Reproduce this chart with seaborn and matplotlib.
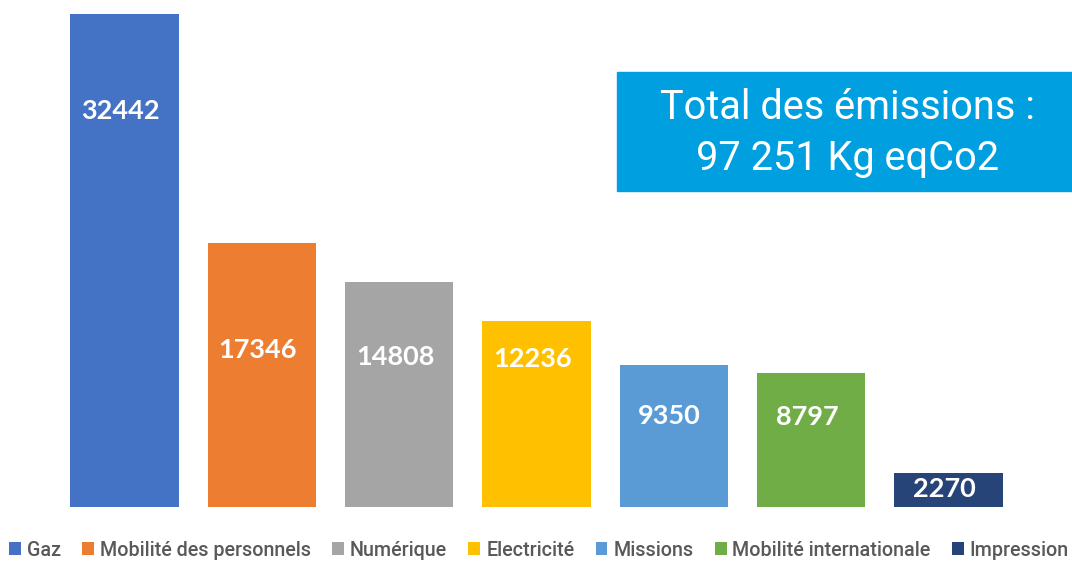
import pandas as pd
import seaborn as sns
import matplotlib.pyplot as plt
from matplotlib.patches import Rectangle

# emissions per poste (kg eqCO2)
categories = ["Gaz", "Mobilité des personnels", "Numérique", "Electricité",
              "Missions", "Mobilité internationale", "Impression"]
emissions = [32442, 17346, 14808, 12236, 9350, 8797, 2270]
colors = ["#4472C4", "#ED7D31", "#A5A5A5", "#FFC000", "#5B9BD5", "#70AD47", "#264478"]
# where the value label sits inside each bar (data units)
label_y = [26060, 10330, 9870, 9740, 5990, 5920, 1185]
total_text = "Total des émissions :\n97 251 Kg eqCo2"

df = pd.DataFrame({"poste": categories, "kg": emissions})

W, H = 1072, 561
fig = plt.figure(figsize=(W / 100, H / 100), dpi=100)
ax = fig.add_axes([55.8 / W, (H - 507) / H, (1017.2 - 55.8) / W, (507 - 14) / H])

sns.barplot(data=df, x="poste", y="kg", hue="poste", palette=colors,
            dodge=False, width=0.79, saturation=1, legend=True, ax=ax)

ax.set_xlim(-0.5, len(categories) - 0.5)
ax.set_ylim(0, max(emissions))
ax.axis("off")

for i, (v, ly) in enumerate(zip(emissions, label_y)):
    ax.text(i - 0.03, ly, str(v), ha="center", va="center", color="white",
            fontsize=19.5, fontweight="bold", family="Lato")

handles, labels = ax.get_legend_handles_labels()
ax.get_legend().remove()
fig.legend(handles, labels, loc="center", bbox_to_anchor=(539 / W, 1 - 550 / H),
           ncol=7, frameon=False, handlelength=0.6, handleheight=0.6,
           handletextpad=0.3, columnspacing=1.08,
           prop={"family": "Roboto", "size": 14.2, "weight": "medium"},
           labelcolor="#595959")

# blue total box
fig.patches.append(Rectangle((617 / W, 1 - 191 / H), (1072 - 617) / W, (191 - 72) / H,
                             transform=fig.transFigure, color="#009FDF", zorder=0))
fig.text(848 / W, 1 - 133 / H, total_text, ha="center", va="center", color="white",
         fontsize=28.6, family="Roboto", linespacing=1.38)

plt.savefig("out.png", dpi=100)
plt.close()
